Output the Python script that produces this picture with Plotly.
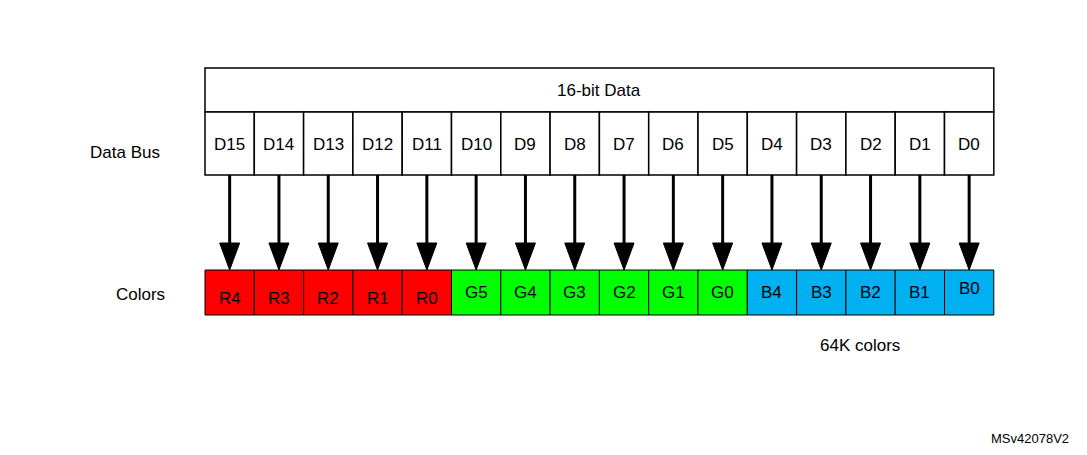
import plotly.graph_objects as go

bus_labels = ["D15","D14","D13","D12","D11","D10","D9","D8","D7","D6","D5","D4","D3","D2","D1","D0"]
color_labels = ["R4","R3","R2","R1","R0","G5","G4","G3","G2","G1","G0","B4","B3","B2","B1","B0"]
color_groups = ["R"]*5 + ["G"]*6 + ["B"]*5
palette = {"R": "#FF0000", "G": "#00FF00", "B": "#00B0F0"}

O = 8  # page body offset
X0, W = 205 - O, 49.3
fig = go.Figure()
shapes, ann = [], []
font = dict(family="Liberation Sans, Arial", size=17, color="black")
shapes.append(dict(type="rect", x0=3-O, x1=1100, y0=6-O, y1=470, line=dict(color="black", width=2)))
shapes.append(dict(type="rect", x0=X0, x1=X0+16*W, y0=68-O, y1=112-O, line=dict(color="black", width=1.5), fillcolor="white"))
ann.append(dict(x=X0+8*W, y=90-O, text="16-bit Data", showarrow=False, font=font))
for i, (b, c, g) in enumerate(zip(bus_labels, color_labels, color_groups)):
    xa = X0 + i*W
    xc = xa + W/2
    shapes.append(dict(type="rect", x0=xa, x1=xa+W, y0=112-O, y1=175-O, line=dict(color="black", width=1.5), fillcolor="white"))
    ann.append(dict(x=xc, y=144-O, text=b, showarrow=False, font=font))
    shapes.append(dict(type="rect", x0=xa, x1=xa+W, y0=270-O, y1=315-O, line=dict(color="black", width=1), fillcolor=palette[g]))
    dy = 298 if g == "R" else (292 if c != "B0" else 288)
    ann.append(dict(x=xc, y=dy-O, text=c, showarrow=False, font=font))
    shapes.append(dict(type="line", x0=xc, x1=xc, y0=175-O, y1=250-O, line=dict(color="black", width=3)))
    shapes.append(dict(type="path", path=f"M {xc-10},{243-O} L {xc+10},{243-O} L {xc},{270-O} Z", fillcolor="black", line=dict(color="black", width=1)))

ann += [
    dict(x=125-O, y=152-O, text="Data Bus", showarrow=False, font=font),
    dict(x=140-O, y=294-O, text="Colors", showarrow=False, font=font),
    dict(x=860-O, y=345-O, text="64K colors", showarrow=False, font=font),
    dict(x=1030-O, y=438-O, text="MSv42078V2", showarrow=False, font=dict(family="Liberation Sans, Arial", size=13, color="black")),
]
fig.update_layout(
    width=1087, height=455, margin=dict(l=0, r=0, t=0, b=0),
    paper_bgcolor="white", plot_bgcolor="white",
    xaxis=dict(range=[0, 1087], visible=False, fixedrange=True),
    yaxis=dict(range=[455, 0], visible=False, fixedrange=True),
    shapes=shapes, annotations=ann, showlegend=False,
)
fig.write_html("out.html")
